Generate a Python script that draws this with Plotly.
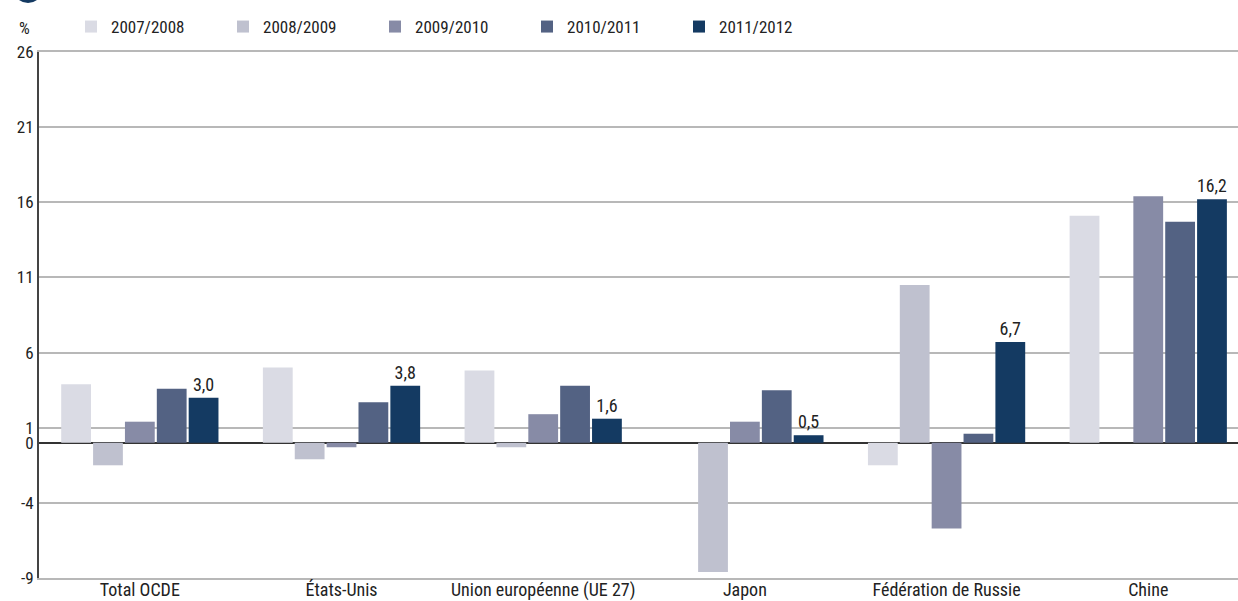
import plotly.graph_objects as go

categories = ["Total OCDE", "États-Unis", "Union européenne (UE 27)", "Japon",
              "Fédération de Russie", "Chine"]
series_names = ["2007/2008", "2008/2009", "2009/2010", "2010/2011", "2011/2012"]
v_2007_2008 = [3.9, 5.0, 4.8, None, -1.5, 15.1]
v_2008_2009 = [-1.5, -1.1, -0.3, -8.6, 10.5, None]
v_2009_2010 = [1.4, -0.3, 1.9, 1.4, -5.7, 16.4]
v_2010_2011 = [3.6, 2.7, 3.8, 3.5, 0.6, 14.7]
v_2011_2012 = [3.0, 3.8, 1.6, 0.5, 6.7, 16.2]
series_values = [v_2007_2008, v_2008_2009, v_2009_2010, v_2010_2011, v_2011_2012]
colors = ["#dadbe4", "#bfc1cf", "#878ba6", "#536283", "#143a62"]
y_ticks = [-9, -4, 0, 1, 6, 11, 16, 21, 26]

FONT = "Liberation Sans Narrow, Roboto Condensed, Arial Narrow, Roboto, sans-serif"
W, H = 1238, 601
ML, MR, MT, MB = 39, 0, 52, 23
PW, PH = W - ML - MR, H - MT - MB

def px_x(x):
    return (x - ML) / PW

def px_y(y):
    return (H - MB - y) / PH

fig = go.Figure()
for i, (name, vals, col) in enumerate(zip(series_names, series_values, colors)):
    kw = {}
    if i == len(series_names) - 1:
        kw = dict(texttemplate="%{y:.1f}", textposition="outside",
                  textfont=dict(family=FONT, size=18, color="#222222"),
                  cliponaxis=False)
    fig.add_trace(go.Bar(x=categories, y=vals, name=name, marker_color=col,
                         marker_line_width=0, **kw))

fig.update_layout(
    width=W, height=H,
    margin=dict(l=ML, r=MR, t=MT, b=MB, pad=0, autoexpand=False),
    paper_bgcolor="white", plot_bgcolor="white",
    barmode="group", bargap=0.21, bargroupgap=0.065,
    separators=", ",
    font=dict(family=FONT, size=17, color="#222222"),
    legend=dict(orientation="h", x=px_x(71), y=px_y(27), xanchor="left",
                yanchor="middle", entrywidth=107, entrywidthmode="pixels",
                font=dict(family=FONT, size=17, color="#222222"),
                bgcolor="rgba(0,0,0,0)", traceorder="normal"),
    xaxis=dict(range=[-0.5, 5.445], showgrid=False, automargin=False,
               showline=True, mirror=True, linecolor="#b8b8b8", linewidth=2,
               ticks="", ticklabelstandoff=-6,
               tickfont=dict(family=FONT, size=18, color="#222222"),
               fixedrange=True),
    yaxis=dict(range=[-9, 26], tickvals=y_ticks, ticktext=[str(t) for t in y_ticks],
               automargin=False,
               showgrid=True, gridcolor="#b8b8b8", gridwidth=1.5,
               zeroline=True, zerolinecolor="#333333", zerolinewidth=2,
               showline=True, linecolor="#444444", linewidth=2,
               ticks="", ticklen=0,
               tickfont=dict(family=FONT, size=17, color="#222222"),
               fixedrange=True),
    showlegend=True,
)

fig.add_annotation(text="%", xref="paper", yref="paper", x=px_x(24), y=px_y(28),
                   showarrow=False, xanchor="center", yanchor="middle",
                   font=dict(family=FONT, size=17, color="#222222"))

fig.add_shape(type="circle", xref="paper", yref="paper",
              x0=px_x(13), x1=px_x(43), y0=px_y(3), y1=px_y(-27),
              fillcolor="#143a62", line_width=0, layer="above")

fig.write_html("out.html", config={"displayModeBar": False},
               post_script="document.body.style.margin='0';document.body.style.padding='0';")
